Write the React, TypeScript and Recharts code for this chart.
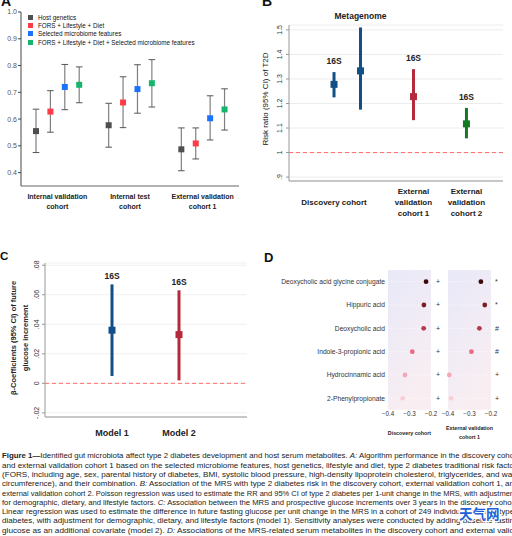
import React from "react";
import {
  BarChart, Bar, ScatterChart, Scatter, XAxis, YAxis, CartesianGrid,
  ReferenceLine, ErrorBar, Legend, Label,
} from "recharts";

// ---- A: AUC of the four prediction models
const aCohorts = ["Internal validation cohort", "Internal test cohort", "External validation cohort 1"];
const aCohortLines = [["Internal validation", "cohort"], ["Internal test", "cohort"], ["External validation", "cohort 1"]];
const aModels = ["Host genetics", "FORS + Lifestyle + Diet", "Selected microbiome features", "FORS + Lifestyle + Diet + Selected microbiome features"];
const aColors = ["#4f4f4f", "#ff3b47", "#1a73ff", "#17b56c"];
const aAuc = [[0.555, 0.577, 0.487], [0.628, 0.662, 0.509], [0.72, 0.712, 0.603], [0.728, 0.734, 0.636]];
const aLow = [[0.475, 0.495, 0.407], [0.551, 0.568, 0.451], [0.635, 0.622, 0.522], [0.661, 0.645, 0.559]];
const aHigh = [[0.637, 0.659, 0.567], [0.706, 0.758, 0.567], [0.804, 0.803, 0.687], [0.795, 0.822, 0.713]];
const aTicks = [0.4, 0.5, 0.6, 0.7, 0.8, 0.9, 1.0];

// ---- B: risk ratio of T2D per unit MRS
const bCohortPos = [1, 4, 6];
const bCohortLines = [["Discovery cohort"], ["External", "validation", "cohort 1"], ["External", "validation", "cohort 2"]];
const bColors = ["#124f87", "#b42a3c", "#127a22"];
const bSeq = ["16S", "Metagenome", "16S", "16S"];
const bPos = [1, 2, 4, 6];
const bCohortIdx = [0, 0, 1, 2];
const bRR = [1.278, 1.333, 1.228, 1.117];
const bLow = [1.225, 1.175, 1.132, 1.058];
const bHigh = [1.328, 1.51, 1.34, 1.182];
const bTicks = [0.9, 1, 1.1, 1.2, 1.3, 1.4, 1.5];

// ---- C: beta coefficients of future glucose increment
const cModels = ["Model 1", "Model 2"];
const cPos = [1, 2];
const cColors = ["#124f87", "#b42a3c"];
const cSeq = ["16S", "16S"];
const cBeta = [0.036, 0.033];
const cLow = [0.005, 0.002];
const cHigh = [0.067, 0.063];
const cTicks = [-0.02, 0, 0.02, 0.04, 0.06, 0.08];

// ---- D: metabolites associated with the MRS
const dMetabolites = ["Deoxycholic acid glycine conjugate", "Hippuric acid", "Deoxycholic acid", "Indole-3-propionic acid", "Hydrocinnamic acid", "2-Phenylpropionate"];
const dDiscovery = [-0.223, -0.233, -0.234, -0.287, -0.321, -0.332];
const dExternal = [-0.247, -0.229, -0.254, -0.291, -0.394, -0.386];
const dSigDiscovery = ["+", "+", "+", "+", "+", "+"];
const dSigExternal = ["*", "*", "#", "#", "+", "+"];
const dColors = ["#3a0a0d", "#7c1d25", "#b8384a", "#ea6a83", "#f5a7b6", "#f9cdd6"];
const dTicks = [-0.4, -0.3, -0.2];

const captionLines: { t: string; b?: boolean; i?: boolean }[][] = [
  [{ t: "Figure 1—", b: true }, { t: "Identified gut microbiota affect type 2 diabetes development and host serum metabolites. " }, { t: "A:", i: true }, { t: " Algorithm performance in the discovery coho" }],
  [{ t: "and external validation cohort 1 based on the selected microbiome features, host genetics, lifestyle and diet, type 2 diabetes traditional risk facto" }],
  [{ t: "(FORS, including age, sex, parental history of diabetes, BMI, systolic blood pressure, high-density lipoprotein cholesterol, triglycerides, and wai" }],
  [{ t: "circumference), and their combination. " }, { t: "B:", i: true }, { t: " Association of the MRS with type 2 diabetes risk in the discovery cohort, external validation cohort 1, an" }],
  [{ t: "external validation cohort 2. Poisson regression was used to estimate the RR and 95% CI of type 2 diabetes per 1-unit change in the MRS, with adjustmen" }],
  [{ t: "for demographic, dietary, and lifestyle factors. " }, { t: "C:", i: true }, { t: " Association between the MRS and prospective glucose increments over 3 years in the discovery cohor" }],
  [{ t: "Linear regression was used to estimate the difference in future fasting glucose per unit change in the MRS in a cohort of 249 individuals without type" }],
  [{ t: "diabetes, with adjustment for demographic, dietary, and lifestyle factors (model 1). Sensitivity analyses were conducted by adding baseline fastin" }],
  [{ t: "glucose as an additional covariate (model 2). " }, { t: "D:", i: true }, { t: " Associations of the MRS-related serum metabolites in the discovery cohort and external valid" }],
];

const fmtStata = (v: number) => String(Math.round(v * 1000) / 1000).replace(/^0\./, ".").replace(/^-0\./, "-.");

const RotTick = (p: any) => (
  <text transform={`translate(${p.x},${p.y}) rotate(-90)`} textAnchor="middle" dy="0.35em" fontSize={7} fill="#333">
    {fmtStata(p.payload.value)}
  </text>
);

const makeCatTick = (keys: (string | number)[], lines: string[][], fontSize: number, gap: number, centerDy: number) => (p: any) => {
  const ls = lines[keys.indexOf(p.payload.value)] ?? [];
  const start = centerDy - ((ls.length - 1) * gap) / 2;
  return (
    <g>
      {ls.map((l, k) => (
        <text key={k} x={p.x} y={p.y + start + k * gap} dy="0.35em" textAnchor="middle" fontSize={fontSize} fontWeight="bold" fill="#222">
          {l}
        </text>
      ))}
    </g>
  );
};

// single-line row label, no wrapping
const RowTick = (p: any) => (
  <text x={p.x} y={p.y} dy="0.35em" textAnchor="end" fontSize={6.7} fill="#333">{p.payload.value}</text>
);

// range bar drawn as CI whisker with caps and a square marker on top
const aShape = (mi: number) => (p: any) => {
  const [lo, hi] = p.payload[`ci${mi}`];
  const top = Math.min(p.y, p.y + p.height);
  const h = Math.abs(p.height);
  const cx = p.x + p.width / 2;
  const cy = top + ((hi - p.payload[`auc${mi}`]) / (hi - lo)) * h;
  return (
    <g>
      <line x1={cx} x2={cx} y1={top} y2={top + h} stroke="#808080" strokeWidth={1.2} />
      <line x1={cx - 3.3} x2={cx + 3.3} y1={top} y2={top} stroke="#555" strokeWidth={1} />
      <line x1={cx - 3.3} x2={cx + 3.3} y1={top + h} y2={top + h} stroke="#555" strokeWidth={1} />
      <rect x={cx - 3} y={cy - 3} width={6} height={6} fill={aColors[mi]} />
    </g>
  );
};

const squareShape = (size: number, color: string) => (p: any) => (
  <rect x={p.cx - size / 2} y={p.cy - size / 2} width={size} height={size} fill={color} />
);

const textShape = (offset: number) => (p: any) => (
  <text x={p.cx} y={p.cy - offset} textAnchor="middle" fontSize={8.5} fontWeight="bold" fill="#222">
    {p.payload.label}
  </text>
);

const ALegend = () => (
  <div style={{ fontSize: 6.3, color: "#111" }}>
    {aModels.map((m, i) => (
      <div key={m} style={{ display: "flex", alignItems: "center", height: 8.3, whiteSpace: "nowrap" }}>
        <span style={{ width: 5, height: 5, background: aColors[i], marginRight: 5, display: "inline-block" }} />
        {m}
      </div>
    ))}
  </div>
);

const dotShape = (p: any) => (
  <circle cx={p.cx} cy={p.cy} r={2.4} fill={dColors[dMetabolites.indexOf(p.payload.name)]} />
);

export default function App() {
  const aRows = aCohorts.map((c, ci) => {
    const row: Record<string, any> = { cohort: c };
    aModels.forEach((_, mi) => {
      row[`ci${mi}`] = [aLow[mi][ci], aHigh[mi][ci]];
      row[`auc${mi}`] = aAuc[mi][ci];
    });
    return row;
  });

  const bSeries = bColors.map((_, k) =>
    bPos
      .map((x, i) => ({ x, y: bRR[i], err: [bRR[i] - bLow[i], bHigh[i] - bRR[i]], k: bCohortIdx[i] }))
      .filter((d) => d.k === k)
  );
  const bLabels = bPos.map((x, i) => ({ x, y: bHigh[i], label: bSeq[i] }));

  const cSeries = cPos.map((x, i) => [{ x, y: cBeta[i], err: [cBeta[i] - cLow[i], cHigh[i] - cBeta[i]] }]);
  const cLabels = cPos.map((x, i) => ({ x, y: cHigh[i], label: cSeq[i] }));

  const dRows = dMetabolites.map((name, i) => ({ name, disc: dDiscovery[i], ext: dExternal[i] }));
  const fmtD = (v: number) => v.toFixed(1).replace("-", "−");

  return (
    <div style={{ position: "absolute", left: 0, top: 0, width: 512, height: 536, overflow: "hidden", background: "#fff", fontFamily: "'Liberation Sans', Arial, sans-serif" }}>
      <svg width={0} height={0} style={{ position: "absolute" }}>
        <defs>
          <linearGradient id="dBg" x1="0" y1="0" x2="0.4" y2="1">
            <stop offset="0" stopColor="#e8e8f8" />
            <stop offset="1" stopColor="#f8eef2" />
          </linearGradient>
        </defs>
      </svg>

      {/* A */}
      <div style={{ position: "absolute", left: 0, top: 0 }}>
        <BarChart width={250} height={215} data={aRows} margin={{ top: 12, right: 11, bottom: 0, left: 0 }} barSize={8} barGap={6.4}>
          <XAxis dataKey="cohort" height={29} tickSize={0} tickMargin={0} tickLine={false} axisLine={{ stroke: "#666" }} interval={0}
            tick={makeCatTick(aCohorts, aCohortLines, 7, 10, 16)} />
          <YAxis type="number" domain={[0.35, 1.0]} ticks={aTicks} width={21} tickSize={3} tickMargin={1} interval={0}
            tickFormatter={(v: number) => v.toFixed(1)} tick={{ fontSize: 7, fill: "#555" }} axisLine={{ stroke: "#444" }} tickLine={{ stroke: "#444" }} />
          <Legend layout="vertical" align="center" verticalAlign="middle" wrapperStyle={{ left: 28, top: 13, width: 215, height: 36 }} content={() => <ALegend />} />
          {aModels.map((m, mi) => (
            <Bar key={m} name={m} dataKey={`ci${mi}`} fill={aColors[mi]} shape={aShape(mi)} isAnimationActive={false} />
          ))}
        </BarChart>
      </div>

      {/* B */}
      <div style={{ position: "absolute", left: 256, top: 0 }}>
        <ScatterChart width={256} height={235} margin={{ top: 25, right: 9, bottom: 0, left: 0 }}>
          <CartesianGrid vertical={false} stroke="#ececec" />
          <XAxis type="number" dataKey="x" domain={[-0.7, 7.38]} ticks={bCohortPos} interval={0} height={54} tickSize={0} tickMargin={0}
            tickLine={false} axisLine={{ stroke: "#999" }} tick={makeCatTick(bCohortPos, bCohortLines, 8, 11, 21)} />
          <YAxis type="number" dataKey="y" domain={[0.884, 1.52]} ticks={bTicks} interval={0} width={33} tickSize={3} tickMargin={6}
            axisLine={{ stroke: "#999" }} tickLine={{ stroke: "#999" }} tick={RotTick}>
            <Label content={(p: any) => (
              <text transform={`translate(${p.viewBox.x + 9},${p.viewBox.y + p.viewBox.height / 2 - 4}) rotate(-90)`} textAnchor="middle" dy="0.35em" fontSize={8} fill="#111">
                Risk ratio (95% CI) of T2D
              </text>
            )} />
          </YAxis>
          <ReferenceLine y={1} stroke="#ff6f6f" strokeDasharray="4 3" />
          {bSeries.map((data, k) => (
            <Scatter key={k} data={data} shape={squareShape(7, bColors[k])} isAnimationActive={false}>
              <ErrorBar dataKey="err" direction="y" width={0} stroke={bColors[k]} strokeWidth={3} />
            </Scatter>
          ))}
          <Scatter data={bLabels} shape={textShape(8)} isAnimationActive={false} />
        </ScatterChart>
      </div>

      {/* C */}
      <div style={{ position: "absolute", left: 0, top: 240 }}>
        <ScatterChart width={256} height={220} margin={{ top: 23, right: 9, bottom: 0, left: 0 }}>
          <CartesianGrid vertical={false} stroke="#f0f0f0" />
          <XAxis type="number" dataKey="x" domain={[0, 3.015]} ticks={cPos} interval={0} height={43} tickSize={0} tickMargin={0}
            tickLine={false} axisLine={{ stroke: "#999" }} tick={makeCatTick(cPos, cModels.map((m) => [m]), 9, 11, 16)} />
          <YAxis type="number" dataKey="y" domain={[-0.0228, 0.0815]} ticks={cTicks} interval={0} width={45} tickSize={3} tickMargin={5}
            axisLine={{ stroke: "#999" }} tickLine={{ stroke: "#999" }} tick={RotTick}>
            <Label content={(p: any) => {
              const cy = p.viewBox.y + p.viewBox.height / 2 - 2;
              return (
                <g fontSize={7.5} fontWeight="bold" fill="#222">
                  <text transform={`translate(${p.viewBox.x + 13},${cy}) rotate(-90)`} textAnchor="middle" dy="0.35em">β-Coefficients (95% CI) of future</text>
                  <text transform={`translate(${p.viewBox.x + 25},${cy}) rotate(-90)`} textAnchor="middle" dy="0.35em">glucose increment</text>
                </g>
              );
            }} />
          </YAxis>
          <ReferenceLine y={0} stroke="#ff6f6f" strokeDasharray="4 3" />
          {cSeries.map((data, k) => (
            <Scatter key={k} data={data} shape={squareShape(7, cColors[k])} isAnimationActive={false}>
              <ErrorBar dataKey="err" direction="y" width={0} stroke={cColors[k]} strokeWidth={3} />
            </Scatter>
          ))}
          <Scatter data={cLabels} shape={textShape(5.5)} isAnimationActive={false} />
        </ScatterChart>
      </div>

      {/* D - discovery cohort */}
      <div style={{ position: "absolute", left: 256, top: 240 }}>
        <ScatterChart width={190} height={220} data={dRows} margin={{ top: 30, right: 0, bottom: 0, left: 0 }}>
          <CartesianGrid fill="url(#dBg)" fillOpacity={1} stroke="#fff" strokeOpacity={0.8} strokeDasharray="1 2" vertical={false} />
          <XAxis type="number" dataKey="disc" domain={[-0.4, -0.2]} ticks={dTicks} interval={0} height={50} tickSize={0} tickMargin={2}
            tickLine={false} axisLine={false} tickFormatter={fmtD} tick={{ fontSize: 6.3, fill: "#333" }}>
            <Label content={(p: any) => (
              <text x={p.viewBox.x + p.viewBox.width / 2} y={p.viewBox.y + 25} textAnchor="middle" fontSize={5.3} fontWeight="bold" fill="#222">Discovery cohort</text>
            )} />
          </XAxis>
          <YAxis type="category" dataKey="name" reversed width={132} tickSize={0} tickMargin={3} interval={0} tickLine={false} axisLine={false}
            tick={RowTick} />
          <YAxis yAxisId="sig" orientation="right" type="category" dataKey="name" reversed width={15} tickSize={0} tickMargin={5} interval={0}
            tickLine={false} axisLine={false} tick={{ fontSize: 7, fill: "#333" }} tickFormatter={(v: string) => dSigDiscovery[dMetabolites.indexOf(v)]} />
          <Scatter data={dRows} shape={dotShape} isAnimationActive={false} />
          <Scatter yAxisId="sig" data={dRows} shape={() => <g />} isAnimationActive={false} />
        </ScatterChart>
      </div>

      {/* D - external validation cohort 1 */}
      <div style={{ position: "absolute", left: 436, top: 240 }}>
        <ScatterChart width={76} height={220} data={dRows} margin={{ top: 30, right: 0, bottom: 0, left: 12 }}>
          <CartesianGrid fill="url(#dBg)" fillOpacity={1} stroke="#fff" strokeOpacity={0.8} strokeDasharray="1 2" vertical={false} />
          <XAxis type="number" dataKey="ext" domain={[-0.4, -0.2]} ticks={dTicks} interval={0} height={50} tickSize={0} tickMargin={2}
            tickLine={false} axisLine={false} tickFormatter={fmtD} tick={{ fontSize: 6.3, fill: "#333" }}>
            <Label content={(p: any) => (
              <g fontSize={5.3} fontWeight="bold" fill="#222" textAnchor="middle">
                <text x={p.viewBox.x + p.viewBox.width / 2} y={p.viewBox.y + 20}>External validation</text>
                <text x={p.viewBox.x + p.viewBox.width / 2} y={p.viewBox.y + 29}>cohort 1</text>
              </g>
            )} />
          </XAxis>
          <YAxis type="category" dataKey="name" reversed hide />
          <YAxis yAxisId="sig" orientation="right" type="category" dataKey="name" reversed width={21} tickSize={0} tickMargin={4} interval={0}
            tickLine={false} axisLine={false} tick={{ fontSize: 7, fill: "#333" }} tickFormatter={(v: string) => dSigExternal[dMetabolites.indexOf(v)]} />
          <Scatter data={dRows} shape={dotShape} isAnimationActive={false} />
          <Scatter yAxisId="sig" data={dRows} shape={() => <g />} isAnimationActive={false} />
        </ScatterChart>
      </div>

      {/* panel letters, caption, watermark */}
      <svg width={512} height={536} style={{ position: "absolute", left: 0, top: 0, pointerEvents: "none" }}>
        <g fontWeight="bold" fill="#111">
          <text x={1} y={6} fontSize={14}>A</text>
          <text x={262} y={6} fontSize={14}>B</text>
          <text x={0} y={260} fontSize={11.5}>C</text>
          <text x={264} y={262} fontSize={13}>D</text>
        </g>
        <g fontSize={7.8} fill="#222">
          {captionLines.map((segs, li) => (
            <text key={li} x={2} y={458.3 + li * 9.3} textLength={512} lengthAdjust="spacingAndGlyphs">
              {segs.map((s, k) => (
                <tspan key={k} fontWeight={s.b ? "bold" : "normal"} fontStyle={s.i ? "italic" : "normal"}>{s.t}</tspan>
              ))}
            </text>
          ))}
        </g>
        <text x={459} y={519} fontSize={13.5} fontWeight="bold" fill="#1d62d6" stroke="#fff" strokeWidth={2.5} paintOrder="stroke"
          fontFamily="'Noto Sans CJK SC', sans-serif">天气网</text>
      </svg>
    </div>
  );
}
